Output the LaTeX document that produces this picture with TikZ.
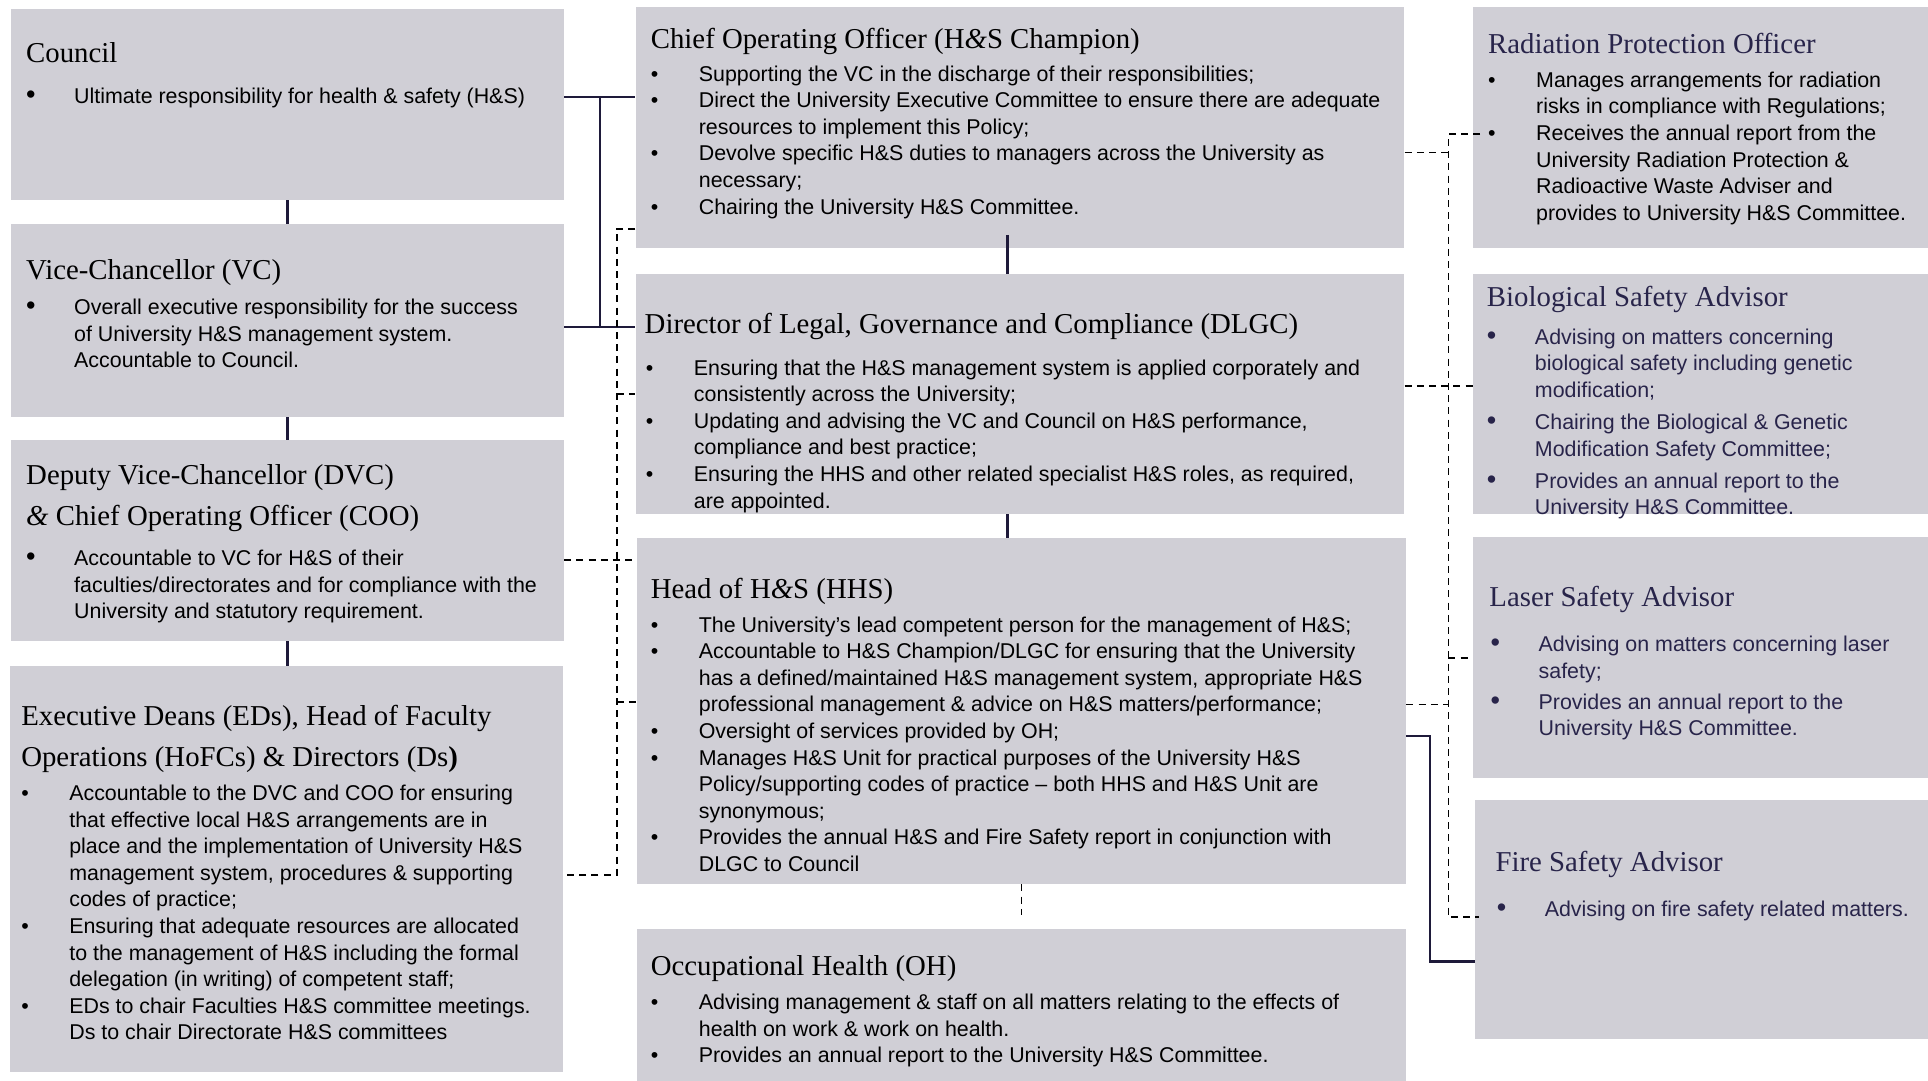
\documentclass[tikz,border=0pt]{standalone}
\usepackage{fontspec}
\setmainfont{Liberation Serif}
\setsansfont{Liberation Sans}
\usetikzlibrary{fit}
\definecolor{boxfill}{RGB}{208,207,214}
\definecolor{navy}{RGB}{40,36,74}
\definecolor{linec}{RGB}{30,26,58}
\newcommand\hd{\fontsize{14.4}{20.6}\selectfont\rmfamily}
\newcommand\bd{\fontsize{10.7}{13.3}\selectfont\sffamily}
\newcommand\amp{\textit{\&}}
\newcommand\bu{\textbullet}
\newcommand\bub{{\fontsize{13.5}{13.3}\selectfont\textbullet}}
\newcommand\blist[1]{\begin{tabular}[t]{@{}p{24pt}@{}l@{}}#1\end{tabular}}
\tikzset{
  box/.style={fill=boxfill, draw=none, inner sep=0pt},
  head/.style={anchor=base west, inner sep=0pt, font=\hd, align=left},
  body/.style={anchor=base west, inner sep=0pt, font=\bd},
  sline/.style={draw=linec, line width=1.3pt},
  dline/.style={draw=black, line width=0.9pt, dash pattern=on 3.5pt off 2.6pt}
}
\begin{document}
\begin{tikzpicture}[x=0.6148pt, y=-0.6148pt]
\useasboundingbox (0,0) rectangle (1568,879);
% ---------- boxes ----------
\node[box, fit={(9,7) (458.5,162.5)}] (council) {};
\node[box, fit={(9,182.5) (458.5,339)}] (vc) {};
\node[box, fit={(9,358) (458.5,521)}] (dvc) {};
\node[box, fit={(8,541.6) (457.6,872)}] (ed) {};
\node[box, fit={(517,6) (1142,202)}] (coo) {};
\node[box, fit={(517,223) (1142,418)}] (dlgc) {};
\node[box, fit={(518,437.6) (1143.5,719)}] (hhs) {};
\node[box, fit={(518,755.6) (1143.5,882)}] (oh) {};
\node[box, fit={(1198,6) (1570,202)}] (rpo) {};
\node[box, fit={(1198,223) (1570,418)}] (bsa) {};
\node[box, fit={(1198,437) (1570,633)}] (lsa) {};
\node[box, fit={(1199.6,650.6) (1570,845)}] (fsa) {};

% ---------- left column texts ----------
\node[head] (council-h) at (21,50.5) {Council};
\node[body] (council-b) at (21,84) {\blist{\bub & Ultimate responsibility for health \& safety (H\&S)}};

\node[head] (vc-h) at (21,227.5) {Vice-Chancellor (VC)};
\node[body] (vc-b) at (21,256) {\blist{\bub & Overall executive responsibility for the success\\
 & of University H\&S management system.\\
 & Accountable to Council.}};

\node[head] (dvc-h) at (21,427.5) {Deputy Vice-Chancellor (DVC)\\ \amp{} Chief Operating Officer (COO)};
\node[body] (dvc-b) at (21,460) {\blist{\bub & Accountable to VC for H\&S of their\\
 & faculties/directorates and for compliance with the\\
 & University and statutory requirement.}};

\node[head] (ed-h) at (17,623.5) {Executive Deans (EDs), Head of Faculty\\ Operations (HoFCs) \& Directors (Ds\textbf{)}};
\node[body] (ed-b) at (17,651) {\blist{\bu & Accountable to the DVC and COO for ensuring\\
 & that effective local H\&S arrangements are in\\
 & place and the implementation of University H\&S\\
 & management system, procedures \& supporting\\
 & codes of practice;\\
\bu & Ensuring that adequate resources are allocated\\
 & to the management of H\&S including the formal\\
 & delegation (in writing) of competent staff;\\
\bu & EDs to chair Faculties H\&S committee meetings.\\
 & Ds to chair Directorate H\&S committees}};

% ---------- middle column texts ----------
\node[head] (coo-h) at (529,39.5) {Chief Operating Officer (H\amp S Champion)};
\node[body] (coo-b) at (529,66) {\blist{\bu & Supporting the VC in the discharge of their responsibilities;\\
\bu & Direct the University Executive Committee to ensure there are adequate\\
 & resources to implement this Policy;\\
\bu & Devolve specific H\&S duties to managers across the University as\\
 & necessary;\\
\bu & Chairing the University H\&S Committee.}};

\node[head] (dlgc-h) at (524,271.5) {Director of Legal, Governance and Compliance (DLGC)};
\node[body] (dlgc-b) at (525,305) {\blist{\bu & Ensuring that the H\&S management system is applied corporately and\\
 & consistently across the University;\\
\bu & Updating and advising the VC and Council on H\&S performance,\\
 & compliance and best practice;\\
\bu & Ensuring the HHS and other related specialist H\&S roles, as required,\\
 & are appointed.}};

\node[head] (hhs-h) at (529,486.5) {Head of H\amp S (HHS)};
\node[body] (hhs-b) at (529,514) {\blist{\bu & The University’s lead competent person for the management of H\&S;\\
\bu & Accountable to H\&S Champion/DLGC for ensuring that the University\\
 & has a defined/maintained H\&S management system, appropriate H\&S\\
 & professional management \& advice on H\&S matters/performance;\\
\bu & Oversight of services provided by OH;\\
\bu & Manages H\&S Unit for practical purposes of the University H\&S\\
 & Policy/supporting codes of practice – both HHS and H\&S Unit are\\
 & synonymous;\\
\bu & Provides the annual H\&S and Fire Safety report in conjunction with\\
 & DLGC to Council}};

\node[head] (oh-h) at (529,793.5) {Occupational Health (OH)};
\node[body] (oh-b) at (529,821) {\blist{\bu & Advising management \& staff on all matters relating to the effects of\\
 & health on work \& work on health.\\
\bu & Provides an annual report to the University H\&S Committee.}};

% ---------- right column texts ----------
\node[head, text=navy] (rpo-h) at (1210,43.5) {Radiation Protection Officer};
\node[body] (rpo-b) at (1210,71) {\blist{\bu & Manages arrangements for radiation\\
 & risks in compliance with Regulations;\\
\bu & Receives the annual report from the\\
 & University Radiation Protection \&\\
 & Radioactive Waste Adviser and\\
 & provides to University H\&S Committee.}};

\node[head, text=navy] (bsa-h) at (1209,249.5) {Biological Safety Advisor};
\node[body, text=navy] (bsa-b) at (1209,280) {\blist{\bub & Advising on matters concerning\\
 & biological safety including genetic\\
 & modification;\\[2.7pt]
\bub & Chairing the Biological \& Genetic\\
 & Modification Safety Committee;\\[2.7pt]
\bub & Provides an annual report to the\\
 & University H\&S Committee.}};

\node[head, text=navy] (lsa-h) at (1211,493.5) {Laser Safety Advisor};
\node[body, text=navy] (lsa-b) at (1212,530) {\blist{\bub & Advising on matters concerning laser\\
 & safety;\\[2.1pt]
\bub & Provides an annual report to the\\
 & University H\&S Committee.}};

\node[head, text=navy] (fsa-h) at (1216,708.5) {Fire Safety Advisor};
\node[body, text=navy] (fsa-b) at (1217,745) {\blist{\bub & Advising on fire safety related matters.}};

% ---------- solid connectors ----------
\draw[sline] (council.south) -- (vc.north);
\draw[sline] (vc.south) -- (dvc.north);
\draw[sline] (dvc.south) -- (ed.north -| dvc.south);
\coordinate (j1) at (488,79);
\coordinate (j2) at (488,266);
\draw[sline] (council.east |- j1) -- (coo.west |- j1);
\draw[sline] (vc.east |- j2) -- (dlgc.west |- j2);
\draw[sline] (j1) -- (j2);
\coordinate (c1) at (819.5,191);
\draw[sline] (c1) -- (dlgc.north -| c1);
\draw[sline] (dlgc.south -| c1) -- (hhs.north -| c1);
\coordinate (f1) at (1163,598.5);
\coordinate (f2) at (1163,782);
\draw[sline] (hhs.east |- f1) -- (f1) -- (f2) -- (fsa.west |- f2);

% ---------- dashed connectors (left) ----------
\coordinate (l1) at (501.5,186);
\coordinate (l2) at (501.5,320.6);
\coordinate (l3) at (501.5,571);
\coordinate (l4) at (501.5,711.6);
\draw[dline] (coo.west |- l1) -- (l1) -- (l4) -- (ed.east |- l4);
\draw[dline] (l2) -- (dlgc.west |- l2);
\draw[dline] (l3) -- (hhs.west |- l3);
\coordinate (l5) at (0,455.6);
\draw[dline] (dvc.east |- l5) -- (hhs.west |- l5);

% ---------- dashed connectors (right) ----------
\coordinate (r1) at (1178,109);
\coordinate (r2) at (1178,746);
\coordinate (r3) at (1178,124);
\coordinate (r4) at (1178,535);
\coordinate (r5) at (1178,573);
\coordinate (r6) at (0,314);
\draw[dline] ([xshift=3.7pt]rpo.west |- r1) -- (r1) -- (r2) -- ([xshift=2.2pt]fsa.west |- r2);
\draw[dline] (coo.east |- r3) -- (r3);
\draw[dline] (dlgc.east |- r6) -- (bsa.west |- r6);
\draw[dline] (r4) -- (lsa.west |- r4);
\draw[dline] (hhs.east |- r5) -- (r5);

% ---------- HHS to OH ----------
\draw[dline] (hhs.south) -- ([yshift=7pt]oh.north);
\end{tikzpicture}
\end{document}
